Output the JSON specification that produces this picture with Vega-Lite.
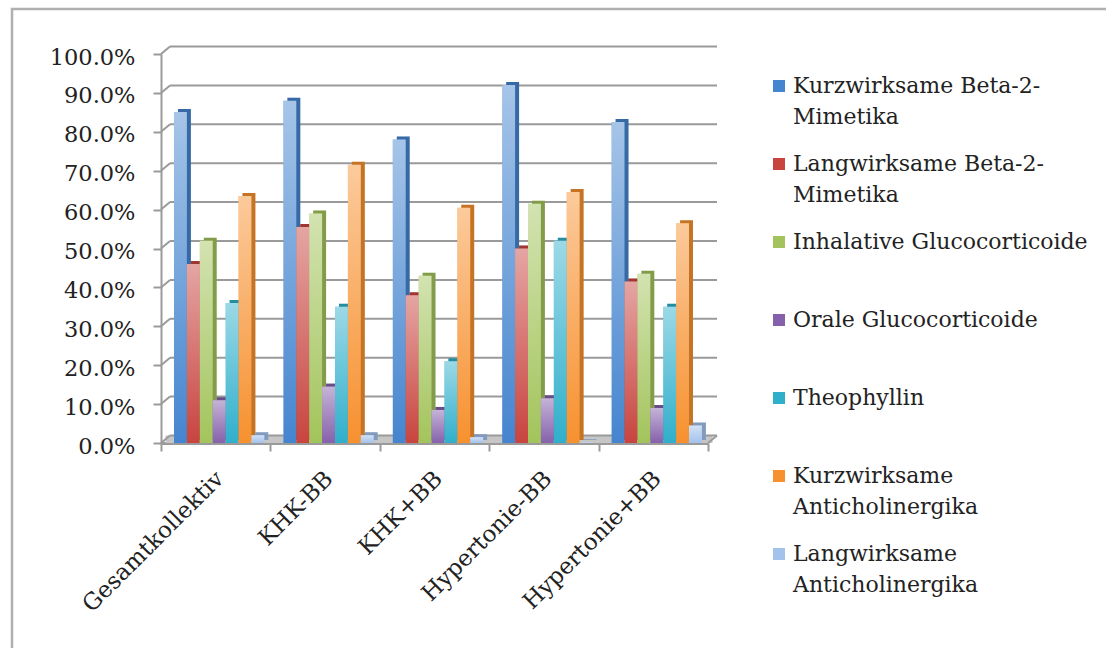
{
"$schema":"https://vega.github.io/schema/vega-lite/v6.json",
"autosize":"none",
"padding":{"left":12,"top":9,"right":0,"bottom":0},
"width":1100,
"height":650,
"background":"#ffffff",
"view":{"stroke":"#b0b0b0","strokeWidth":2.5,"fill":"#ffffff"},
"datasets":{
"walls":[{"g":0},{"g":0.1},{"g":0.2},{"g":0.3},{"g":0.4},{"g":0.5},{"g":0.6},{"g":0.7},{"g":0.8},{"g":0.9},{"g":1}],
"bars":[
{"gruppe":"Gesamtkollektiv","klasse":"Kurzwirksame Beta-2-Mimetika","anteil":0.851},
{"gruppe":"Gesamtkollektiv","klasse":"Langwirksame Beta-2-Mimetika","anteil":0.46},
{"gruppe":"Gesamtkollektiv","klasse":"Inhalative Glucocorticoide","anteil":0.52},
{"gruppe":"Gesamtkollektiv","klasse":"Orale Glucocorticoide","anteil":0.11},
{"gruppe":"Gesamtkollektiv","klasse":"Theophyllin","anteil":0.36},
{"gruppe":"Gesamtkollektiv","klasse":"Kurzwirksame Anticholinergika","anteil":0.635},
{"gruppe":"Gesamtkollektiv","klasse":"Langwirksame Anticholinergika","anteil":0.02},
{"gruppe":"KHK-BB","klasse":"Kurzwirksame Beta-2-Mimetika","anteil":0.88},
{"gruppe":"KHK-BB","klasse":"Langwirksame Beta-2-Mimetika","anteil":0.555},
{"gruppe":"KHK-BB","klasse":"Inhalative Glucocorticoide","anteil":0.59},
{"gruppe":"KHK-BB","klasse":"Orale Glucocorticoide","anteil":0.145},
{"gruppe":"KHK-BB","klasse":"Theophyllin","anteil":0.35},
{"gruppe":"KHK-BB","klasse":"Kurzwirksame Anticholinergika","anteil":0.715},
{"gruppe":"KHK-BB","klasse":"Langwirksame Anticholinergika","anteil":0.02},
{"gruppe":"KHK+BB","klasse":"Kurzwirksame Beta-2-Mimetika","anteil":0.78},
{"gruppe":"KHK+BB","klasse":"Langwirksame Beta-2-Mimetika","anteil":0.38},
{"gruppe":"KHK+BB","klasse":"Inhalative Glucocorticoide","anteil":0.43},
{"gruppe":"KHK+BB","klasse":"Orale Glucocorticoide","anteil":0.085},
{"gruppe":"KHK+BB","klasse":"Theophyllin","anteil":0.21},
{"gruppe":"KHK+BB","klasse":"Kurzwirksame Anticholinergika","anteil":0.605},
{"gruppe":"KHK+BB","klasse":"Langwirksame Anticholinergika","anteil":0.015},
{"gruppe":"Hypertonie-BB","klasse":"Kurzwirksame Beta-2-Mimetika","anteil":0.92},
{"gruppe":"Hypertonie-BB","klasse":"Langwirksame Beta-2-Mimetika","anteil":0.5},
{"gruppe":"Hypertonie-BB","klasse":"Inhalative Glucocorticoide","anteil":0.615},
{"gruppe":"Hypertonie-BB","klasse":"Orale Glucocorticoide","anteil":0.115},
{"gruppe":"Hypertonie-BB","klasse":"Theophyllin","anteil":0.52},
{"gruppe":"Hypertonie-BB","klasse":"Kurzwirksame Anticholinergika","anteil":0.645},
{"gruppe":"Hypertonie-BB","klasse":"Langwirksame Anticholinergika","anteil":0.002},
{"gruppe":"Hypertonie+BB","klasse":"Kurzwirksame Beta-2-Mimetika","anteil":0.825},
{"gruppe":"Hypertonie+BB","klasse":"Langwirksame Beta-2-Mimetika","anteil":0.415},
{"gruppe":"Hypertonie+BB","klasse":"Inhalative Glucocorticoide","anteil":0.435},
{"gruppe":"Hypertonie+BB","klasse":"Orale Glucocorticoide","anteil":0.09},
{"gruppe":"Hypertonie+BB","klasse":"Theophyllin","anteil":0.35},
{"gruppe":"Hypertonie+BB","klasse":"Kurzwirksame Anticholinergika","anteil":0.565},
{"gruppe":"Hypertonie+BB","klasse":"Langwirksame Anticholinergika","anteil":0.045}
]},
"layer":[
{
"data":{"name":"walls"},
"encoding":{"y":{"field":"g","type":"quantitative","title":null,"scale":{"domain":[0,1],"range":[434,45]},
 "axis":{"offset":-149,"orient":"left","values":[0,0.1,0.2,0.3,0.4,0.5,0.6,0.7,0.8,0.9,1],"format":".1%","grid":false,"labelFont":"DejaVu Serif","labelFontSize":22.5,"labelOffset":3,"labelColor":"#222222","labelPadding":18,"tickSize":8,"tickWidth":2,"tickColor":"#9a9a9a","domainColor":"#9a9a9a","domainWidth":2,"labelLimit":200}}},
"layer":[
{"mark":{"type":"rect","fill":"#c6c6c6"},"transform":[{"filter":"datum.g==0"}],
 "encoding":{"x":{"datum":4.5,"type":"quantitative","scale":{"domain":[0,547],"range":[149,696]},"axis":null},"x2":{"datum":551.5},"y":{"datum":0,"type":"quantitative"},"y2":{"datum":0.019}}},
{"mark":{"type":"rule","stroke":"#9a9a9a","strokeWidth":2,"yOffset":-7.5},
 "encoding":{"x":{"datum":9,"type":"quantitative","scale":{"domain":[0,547],"range":[149,696]},"axis":null},"x2":{"datum":556}}},
{"mark":{"type":"rule","stroke":"#9a9a9a","strokeWidth":2,"y2Offset":-7.5},
 "encoding":{"x":{"datum":0,"type":"quantitative","scale":{"domain":[0,547],"range":[149,696]},"axis":null},"x2":{"datum":9},"y2":{"field":"g"}}},
{"mark":{"type":"rule","stroke":"#9a9a9a","strokeWidth":2,"y2Offset":-7.5},"transform":[{"filter":"datum.g==0"}],
 "encoding":{"x":{"datum":547,"type":"quantitative","scale":{"domain":[0,547],"range":[149,696]},"axis":null},"x2":{"datum":556},"y2":{"field":"g"}}}
]
},
{
"data":{"name":"bars"},
"encoding":{
"x":{"field":"gruppe","type":"nominal","sort":null,"title":null,
 "scale":{"range":[149,696],"paddingInner":0,"paddingOuter":0},
 "axis":{"offset":-216,"orient":"bottom","tickBand":"extent","labelAngle":-45,"labelAlign":"right","labelBaseline":"top","labelFont":"DejaVu Serif","labelFontSize":23,"labelOffset":-4,"labelColor":"#222222","labelPadding":16,"tickSize":8,"tickWidth":2,"tickColor":"#9a9a9a","domainColor":"#9a9a9a","domainWidth":3,"labelLimit":300}},
"y":{"field":"anteil","type":"quantitative"},
"color":{"field":"klasse","type":"nominal","sort":null,
 "scale":{"domain":["Kurzwirksame Beta-2-Mimetika","Langwirksame Beta-2-Mimetika","Inhalative Glucocorticoide","Orale Glucocorticoide","Theophyllin","Kurzwirksame Anticholinergika","Langwirksame Anticholinergika"],"range":["#4585cf","#c8443f","#a3c45c","#8561ab","#30afcb","#f7912f","#a3c2ec"]},
 "legend":{"orient":"none","legendX":756,"legendY":66,"title":null,"columns":1,"gridAlign":"all","rowPadding":25,"symbolType":"square","symbolSize":144,"symbolStrokeWidth":0,"labelFont":"DejaVu Serif","labelFontSize":22,"labelColor":"#222222","labelLimit":400,"labelOffset":3,
  "labelExpr":"datum.label=='Kurzwirksame Beta-2-Mimetika'?['Kurzwirksame Beta-2-','Mimetika']:datum.label=='Langwirksame Beta-2-Mimetika'?['Langwirksame Beta-2-','Mimetika']:datum.label=='Kurzwirksame Anticholinergika'?['Kurzwirksame','Anticholinergika']:datum.label=='Langwirksame Anticholinergika'?['Langwirksame','Anticholinergika']:datum.label"}}
},
"layer":[
{"encoding":{"xOffset":{"field":"klasse","type":"nominal","sort":null,"scale":{"paddingInner":0,"paddingOuter":0.74,"align":0.89}}},
"layer":[
{"mark":{"type":"bar","yOffset":-3}},
{"mark":{"type":"bar","yOffset":-3,"fill":"#000000","fillOpacity":0.2}}
]},
{"encoding":{"xOffset":{"field":"klasse","type":"nominal","sort":null,"scale":{"paddingInner":0,"paddingOuter":0.74,"align":0.68}}},
"layer":[
{"mark":{"type":"bar"}},
{"mark":{"type":"bar","fill":{"gradient":"linear","x1":0,"y1":0,"x2":0,"y2":1,"stops":[{"offset":0,"color":"rgba(255,255,255,0.52)"},{"offset":1,"color":"rgba(255,255,255,0)"}]}}}
]}
],
"resolve":{"scale":{"xOffset":"independent"}}
}
],
"resolve":{"scale":{"x":"independent"},"axis":{"x":"independent"}},
"config":{"bar":{"stroke":null},"style":{"guide-label":{"lineHeight":31}}}
}
